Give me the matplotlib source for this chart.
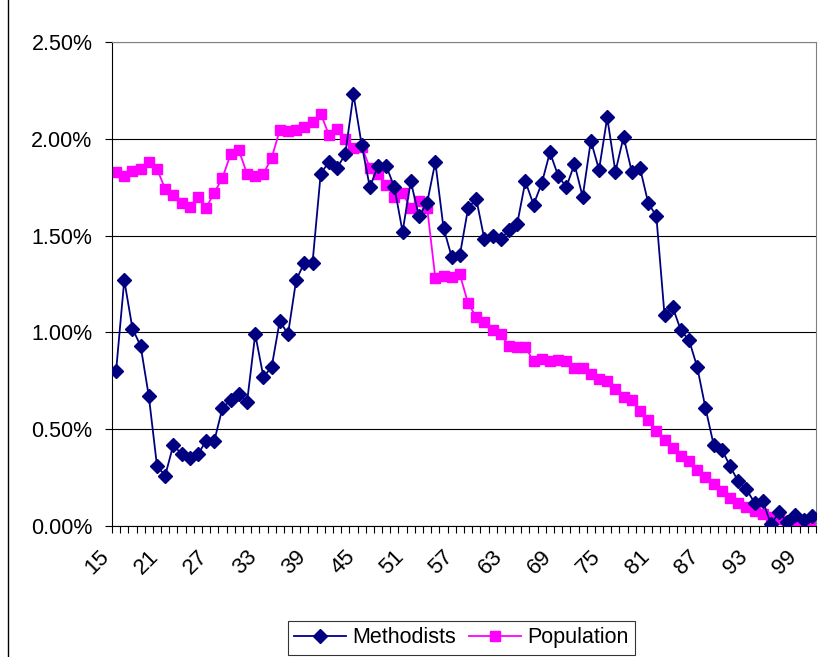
import matplotlib.pyplot as plt
import matplotlib.transforms as mtransforms
from matplotlib.lines import Line2D
from matplotlib.ticker import FixedLocator, PercentFormatter

plt.rcParams['font.family'] = ['Liberation Sans', 'DejaVu Sans']

ages = list(range(15, 101))

methodists = [
    0.80, 1.27, 1.02, 0.93, 0.67, 0.31, 0.26, 0.42, 0.37, 0.35,
    0.37, 0.44, 0.44, 0.61, 0.65, 0.68, 0.64, 0.99, 0.77, 0.82,
    1.06, 0.99, 1.27, 1.36, 1.36, 1.82, 1.88, 1.85, 1.92, 2.23,
    1.97, 1.75, 1.86, 1.86, 1.75, 1.52, 1.78, 1.60, 1.67, 1.88,
    1.54, 1.39, 1.40, 1.64, 1.69, 1.48, 1.50, 1.48, 1.53, 1.56,
    1.78, 1.66, 1.77, 1.93, 1.81, 1.75, 1.87, 1.70, 1.99, 1.84,
    2.11, 1.83, 2.01, 1.83, 1.85, 1.67, 1.60, 1.09, 1.13, 1.01,
    0.96, 0.82, 0.61, 0.42, 0.395, 0.31, 0.23, 0.19, 0.12, 0.13,
    0.01, 0.07, 0.02, 0.055, 0.03, 0.05,
]

population = [
    1.83, 1.81, 1.835, 1.845, 1.88, 1.845, 1.74, 1.71, 1.67, 1.65,
    1.70, 1.645, 1.72, 1.80, 1.92, 1.94, 1.82, 1.81, 1.82, 1.90,
    2.045, 2.04, 2.045, 2.06, 2.085, 2.13, 2.02, 2.05, 2.00, 1.95,
    1.96, 1.85, 1.82, 1.76, 1.70, 1.72, 1.64, 1.68, 1.645, 1.28,
    1.29, 1.285, 1.30, 1.15, 1.08, 1.055, 1.01, 0.99, 0.93, 0.925,
    0.925, 0.85, 0.865, 0.85, 0.855, 0.85, 0.815, 0.815, 0.785, 0.76,
    0.75, 0.71, 0.665, 0.65, 0.595, 0.545, 0.49, 0.445, 0.405, 0.36,
    0.335, 0.29, 0.255, 0.215, 0.18, 0.145, 0.12, 0.10, 0.08, 0.06,
    0.045, 0.035, 0.025, 0.02, 0.02, 0.027,
]

label_step = 6

fig = plt.figure(figsize=(8.18, 6.57), dpi=100)
ax = fig.add_axes([0.1369, 0.1994, 0.8606, 0.7367])

x = list(range(len(ages)))
ax.plot(x, methodists, color='#000080', lw=1.3, marker='D', ms=7.5,
        label='Methodists', zorder=3)
ax.plot(x, population, color='#FF00FF', lw=1.3, marker='s', ms=7.5,
        label='Population', zorder=2)

ax.set_xlim(-0.5, len(ages) - 0.5)
ax.set_ylim(0, 2.5)
ax.yaxis.set_major_locator(FixedLocator([0, 0.5, 1.0, 1.5, 2.0, 2.5]))
ax.yaxis.set_major_formatter(PercentFormatter(100, decimals=2))
ax.grid(axis='y', color='black', lw=0.8)
ax.set_axisbelow(True)

ax.set_xticks(x[::label_step])
ax.set_xticklabels([str(a) for a in ages[::label_step]], rotation=45,
                   ha='right', va='center', rotation_mode='anchor')
ax.set_xticks([i - 0.5 for i in range(len(ages) + 1)], minor=True)
ax.tick_params(axis='x', which='major', length=0, pad=20, labelsize=16)
ax.tick_params(axis='x', which='minor', length=5, width=0.8)
ax.tick_params(axis='y', length=5, width=0.8, labelsize=15.5, pad=9)

# shift rotated labels left like the original
shift = mtransforms.ScaledTranslation(-0.1, 0, fig.dpi_scale_trans)
for lbl in ax.get_xticklabels():
    lbl.set_transform(lbl.get_transform() + shift)

for side in ['top', 'right']:
    ax.spines[side].set_color('#808080')
for side in ['left', 'bottom']:
    ax.spines[side].set_color('black')

leg = fig.legend(loc='center', bbox_to_anchor=(0.564, 0.029), ncol=2,
                 fontsize=15.5, frameon=True, fancybox=False, edgecolor='black',
                 handlelength=2.4, columnspacing=0.6, handletextpad=0.3,
                 borderpad=0.3)
leg.get_frame().set_linewidth(0.8)

fig.add_artist(Line2D([8 / 818, 8 / 818], [0, 1], color='black', lw=1,
                      transform=fig.transFigure))

fig.savefig('out.png', dpi=100)
